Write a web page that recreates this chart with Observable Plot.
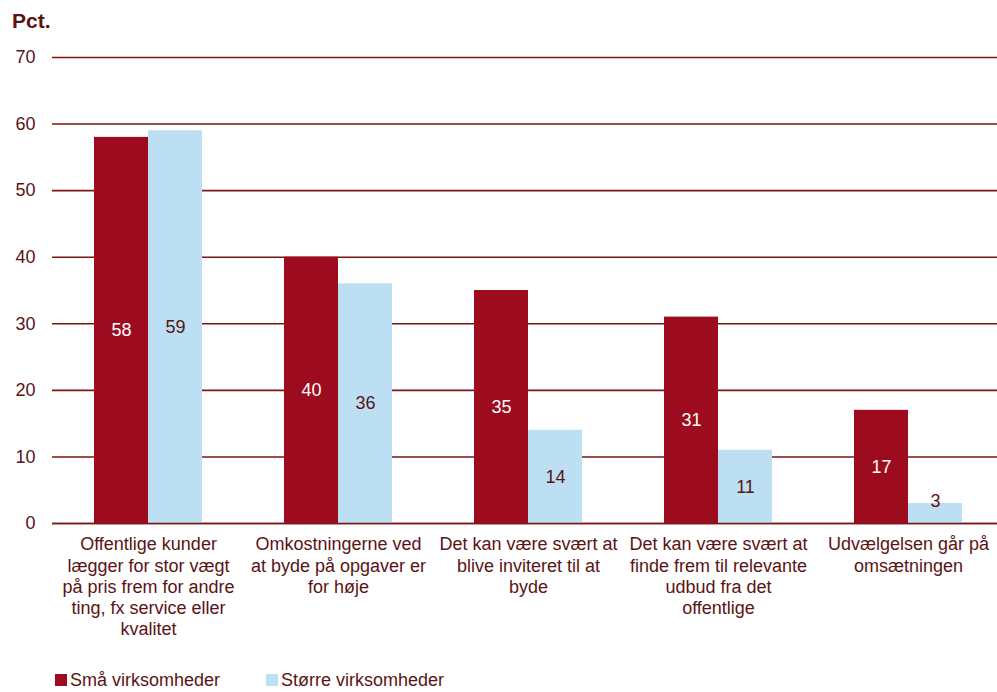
<!DOCTYPE html>
<html>
<head>
<meta charset="utf-8">
<script src="https://cdn.jsdelivr.net/npm/d3@7"></script>
<script src="https://cdn.jsdelivr.net/npm/@observablehq/plot@0.6"></script>
<style>
  html, body { margin: 0; padding: 0; background: #fff; }
  body { width: 997px; height: 692px; overflow: hidden; font-family: "Liberation Sans", Arial, sans-serif; color: #5a1414; }
  #head { height: 40px; position: relative; }
  #head span { position: absolute; left: 12px; top: 9px; font-weight: bold; font-size: 21px; color: #5a1414; }
  #legend { position: relative; height: 32px; font-size: 18px; }
  .item { position: absolute; top: 10px; display: flex; align-items: center; line-height: 20px; }
  .sw { width: 12px; height: 12px; margin-right: 3px; }
</style>
</head>
<body>
<div id="head"><span>Pct.</span></div>
<div id="chart"></div>
<div id="legend"></div>
<script>
const categories = [
  "Offentlige kunder\nlægger for stor vægt\npå pris frem for andre\nting, fx service eller\nkvalitet",
  "Omkostningerne ved\nat byde på opgaver er\nfor høje",
  "Det kan være svært at\nblive inviteret til at\nbyde",
  "Det kan være svært at\nfinde frem til relevante\nudbud fra det\noffentlige",
  "Udvælgelsen går på\nomsætningen"
];
const series = ["Små virksomheder", "Større virksomheder"];
const smaa = [58, 40, 35, 31, 17];
const stoerre = [59, 36, 14, 11, 3];
const yTicks = [0, 10, 20, 30, 40, 50, 60, 70];

const colors = {"Små virksomheder": "#9c0c1e", "Større virksomheder": "#bcdff4"};
const textColor = "#5a1414";
const gridColor = "#7d1515";

const dSmaa = categories.map((c, i) => ({cat: c, series: series[0], value: smaa[i]}));
const dStoerre = categories.map((c, i) => ({cat: c, series: series[1], value: stoerre[i]}));

const chart = Plot.plot({
  width: 997,
  height: 620,
  marginTop: 17,
  marginBottom: 137,
  marginLeft: 52,
  marginRight: 0,
  style: {fontFamily: "Liberation Sans, Arial, sans-serif", fontSize: "18px", color: textColor, background: "white"},
  x: {type: "band", domain: categories, range: [52, 1004.5], paddingInner: 0.433, paddingOuter: 0.216, axis: null},
  y: {domain: [0, 70], axis: null},
  marks: [
    Plot.ruleY(yTicks, {stroke: gridColor, strokeWidth: 1.6}),
    Plot.barY(dSmaa, {x: "cat", y: "value", fill: colors[series[0]], insetRight: 54}),
    Plot.barY(dStoerre, {x: "cat", y: "value", fill: colors[series[1]], insetLeft: 54}),
    Plot.ruleY([0], {stroke: gridColor, strokeWidth: 1.6}),
    Plot.text(yTicks, {x: null, y: d => d, text: d => String(d), frameAnchor: "left", dx: -17, textAnchor: "end", fill: textColor, fontSize: 18}),
    Plot.text(dSmaa, {x: "cat", y: d => d.value / 2, text: d => String(d.value), dx: -27, fill: "white", fontSize: 18}),
    Plot.text(dStoerre, {x: "cat", y: d => Math.max(d.value / 2, 3.4), text: d => String(d.value), dx: 27, fill: textColor, fontSize: 18}),
    Plot.text(categories, {x: d => d, y: 0, text: d => d, lineAnchor: "top", dy: 12, fill: textColor, fontSize: 18, lineHeight: 1.17})
  ]
});
document.getElementById("chart").appendChild(chart);

const legend = document.getElementById("legend");
const lx = [55, 266];
series.forEach((s, i) => {
  const it = document.createElement("div");
  it.className = "item";
  it.style.left = lx[i] + "px";
  it.innerHTML = `<div class="sw" style="background:${colors[s]}"></div><span>${s}</span>`;
  legend.appendChild(it);
});
</script>
</body>
</html>
